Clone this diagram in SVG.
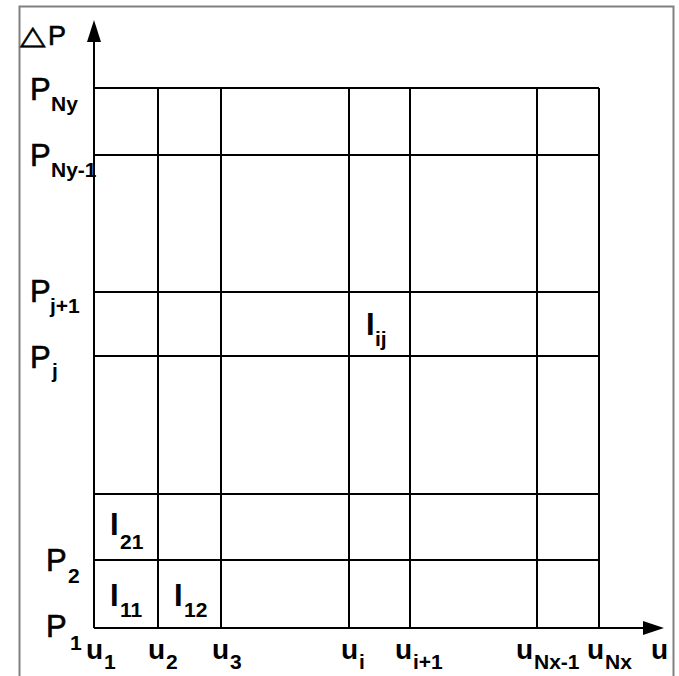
<svg xmlns="http://www.w3.org/2000/svg" width="679" height="676" viewBox="0 0 679 676">
<style>
.grid{stroke:#000;stroke-width:2;fill:none}
.frame{stroke:#808080;stroke-width:2;fill:none}
.m{font-family:"Liberation Sans",Arial,sans-serif;font-size:31px;fill:#000;stroke:#000;stroke-width:0.6}
.s{font-family:"Liberation Sans",Arial,sans-serif;font-size:21px;font-weight:bold;fill:#000}
.u{font-family:"Liberation Sans",Arial,sans-serif;font-size:28px;font-weight:bold;fill:#000}
.I{font-family:"Liberation Sans",Arial,sans-serif;font-size:31px;font-weight:bold;fill:#000}
</style>
<rect width="679" height="676" fill="#fff"/>
<path class="frame" d="M19.5,680 V6.5 H673.5 V680"/>
<g id="connectors">
<line class="grid" x1="94" y1="628" x2="94" y2="42"/>
<path d="M87,42 L94,20 L101,42 z" fill="#000"/>
<line class="grid" x1="94" y1="628" x2="643" y2="628"/>
<path d="M643,621 L664,628 L643,635 z" fill="#000"/>
<g class="grid">
<line x1="94" y1="88" x2="599" y2="88"/>
<line x1="94" y1="155" x2="599" y2="155"/>
<line x1="94" y1="292" x2="599" y2="292"/>
<line x1="94" y1="356" x2="599" y2="356"/>
<line x1="94" y1="494" x2="599" y2="494"/>
<line x1="94" y1="560" x2="599" y2="560"/>
<line x1="158" y1="88" x2="158" y2="628"/>
<line x1="221" y1="88" x2="221" y2="628"/>
<line x1="349" y1="88" x2="349" y2="628"/>
<line x1="410" y1="88" x2="410" y2="628"/>
<line x1="537" y1="88" x2="537" y2="628"/>
<line x1="599" y1="88" x2="599" y2="628"/>
</g>
</g>
<g id="axis-labels">
<text x="20" y="44" transform="translate(20,44) scale(1.28,1.0) translate(-20,-44)" style="font-family:'DejaVu Sans',sans-serif;font-size:26px;stroke:#000;stroke-width:0.5">△</text>
<text class="m" x="48" y="45" style="font-size:27px">P</text>
<text class="u" x="651" y="659">u</text>
</g>
<g id="p-labels">
<text class="m" x="30" y="100">P</text><text class="s" x="51" y="111">Ny</text>
<text class="m" x="30" y="166">P</text><text class="s" x="51" y="177">Ny-1</text>
<text class="m" x="30" y="302">P</text><text class="s" x="50" y="313">j+1</text>
<text class="m" x="30" y="368">P</text><text class="s" x="52" y="378">j</text>
<text class="m" x="46" y="571">P</text><text class="s" x="68" y="583">2</text>
<text class="m" x="46" y="637">P</text><text class="s" x="70" y="650">1</text>
</g>
<g id="u-labels">
<text class="u" x="86" y="659">u</text><text class="s" x="104" y="669">1</text>
<text class="u" x="148" y="659">u</text><text class="s" x="166" y="669">2</text>
<text class="u" x="212" y="659">u</text><text class="s" x="230" y="669">3</text>
<text class="u" x="341" y="659">u</text><text class="s" x="359" y="669">i</text>
<text class="u" x="395" y="659">u</text><text class="s" x="413" y="669">i+1</text>
<text class="u" x="516" y="659">u</text><text class="s" x="534" y="669">Nx-1</text>
<text class="u" x="587" y="659">u</text><text class="s" x="605" y="669">Nx</text>
</g>
<g id="cells">
<text class="I" x="110" y="535">I</text><text class="s" x="120" y="549">21</text>
<text class="I" x="110" y="606">I</text><text class="s" x="120" y="617">11</text>
<text class="I" x="174" y="606">I</text><text class="s" x="184" y="617">12</text>
<text class="I" x="366" y="335">I</text><text class="s" x="375" y="346">ij</text>
</g>
</svg>
